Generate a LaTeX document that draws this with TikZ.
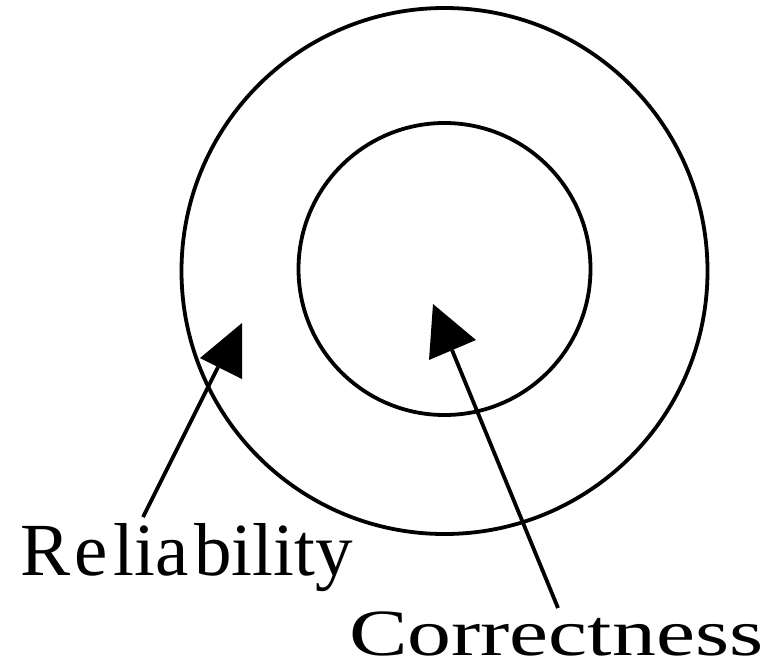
\documentclass[tikz,border=0pt]{standalone}
\usepackage{fontspec}
\setmainfont{Liberation Serif}
\begin{document}
\begin{tikzpicture}[x=1pt,y=-1pt,
  ring/.style={draw=black,line width=3.8pt},
  pointer/.style={draw=black,line width=3.8pt},
  head/.style={fill=black,draw=none},
  lbl/.style={inner sep=0pt,outer sep=0pt,anchor=base west}]
\useasboundingbox (0,0) rectangle (768,667);
% circles
\node[ring,circle,minimum size=526pt,inner sep=0pt] (outer) at (444.5,271) {};
\node[ring,circle,minimum size=292pt,inner sep=0pt] (inner) at (444.5,269) {};
% labels
\node[lbl,font=\fontsize{75}{80}\selectfont] (rel) at (20,575) {R\kern4pt e\kern6pt lia\kern6pt bility};
\node[lbl,font=\fontsize{66}{70}\selectfont] (cor) at (349,655) {\scalebox{1.33}[1]{Correctness}};
% pointer coordinates
\coordinate (relfoot) at (143,517);
\coordinate (reltip) at (218,367);
\coordinate (corfoot) at (558,608);
\coordinate (cortip) at (452,350);
% arrowheads
\coordinate (ra) at (200,358);
\coordinate (rb) at (242,323);
\coordinate (rc) at (242,379);
\coordinate (ca) at (433,304);
\coordinate (cb) at (476,340);
\coordinate (cc) at (429,360);
\draw[pointer] (relfoot) -- (reltip);
\draw[pointer] (corfoot) -- (cortip);
\path[head] (ra) -- (rb) -- (rc) -- cycle;
\path[head] (ca) -- (cb) -- (cc) -- cycle;
\end{tikzpicture}
\end{document}
